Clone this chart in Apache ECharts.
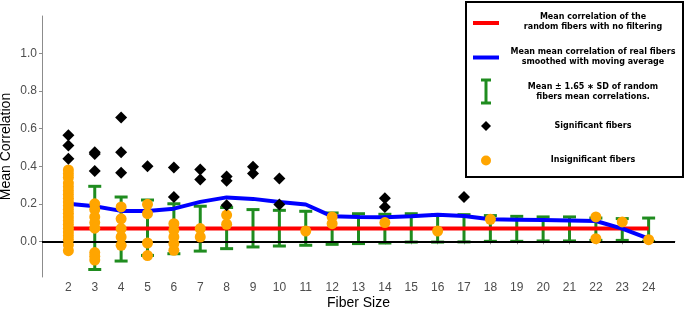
<!DOCTYPE html>
<html>
<head>
<meta charset="utf-8">
<script src="https://cdn.jsdelivr.net/npm/echarts@6/dist/echarts.min.js"></script>
<style>
  html, body { margin: 0; padding: 0; background: #fff; }
  #chart { width: 685px; height: 311px; }
</style>
</head>
<body>
<div id="chart"></div>
<script>
var sizes = [2, 3, 4, 5, 6, 7, 8, 9, 10, 11, 12, 13, 14, 15, 16, 17, 18, 19, 20, 21, 22, 23, 24];
var randomMean = [0.068, 0.068, 0.068, 0.068, 0.068, 0.068, 0.068, 0.068, 0.068, 0.068, 0.068, 0.068,
  0.068, 0.068, 0.068, 0.068, 0.068, 0.068, 0.068, 0.068, 0.068, 0.068, 0.068];
var realMovingAvg = [0.2, 0.187, 0.162, 0.162, 0.174, 0.21, 0.234, 0.226, 0.21, 0.196, 0.133, 0.13,
  0.128, 0.133, 0.142, 0.135, 0.117, 0.115, 0.113, 0.111, 0.108, 0.068, 0.014];

// error bars (size, low, high), none visible at size 2
var errSizes = [3, 4, 5, 6, 7, 8, 9, 10, 11, 12, 13, 14, 15, 16, 17, 18, 19, 20, 21, 22, 23, 24];
var errLow = [-0.15, -0.105, -0.075, -0.066, -0.052, -0.039, -0.03, -0.025, -0.021, -0.016, -0.012,
  -0.009, -0.004, -0.004, -0.003, 0.0, 0.0, 0.002, 0.002, 0.005, 0.005, 0.0];
var errHigh = [0.293, 0.236, 0.22, 0.2, 0.187, 0.18, 0.169, 0.165, 0.16, 0.151, 0.147,
  0.144, 0.147, 0.142, 0.142, 0.137, 0.133, 0.13, 0.13, 0.124, 0.121, 0.124];

var significant = [
  [2, 0.565], [2, 0.51], [2, 0.44],
  [3, 0.475], [3, 0.465], [3, 0.375],
  [4, 0.66], [4, 0.475], [4, 0.365],
  [5, 0.40],
  [6, 0.393], [6, 0.236],
  [7, 0.382], [7, 0.329],
  [8, 0.345], [8, 0.322], [8, 0.192],
  [9, 0.397], [9, 0.361],
  [10, 0.334], [10, 0.196],
  [14, 0.23], [14, 0.183],
  [17, 0.236]
];
var insignificant = [
  [2, 0.38], [2, 0.36], [2, 0.34], [2, 0.31], [2, 0.29], [2, 0.27], [2, 0.25], [2, 0.23], [2, 0.21],
  [2, 0.19], [2, 0.17], [2, 0.15], [2, 0.13], [2, 0.11], [2, 0.09], [2, 0.07], [2, 0.05], [2, 0.03],
  [2, 0.01], [2, -0.02], [2, -0.05],
  [3, 0.2], [3, 0.17], [3, 0.13], [3, 0.1], [3, 0.07], [3, -0.06], [3, -0.08], [3, -0.1],
  [4, 0.183], [4, 0.12], [4, 0.068], [4, 0.023], [4, -0.021],
  [5, 0.197], [5, 0.147], [5, -0.009], [5, -0.076],
  [6, 0.094], [6, 0.059], [6, 0.023], [6, -0.012], [6, -0.048],
  [7, 0.068], [7, 0.023],
  [8, 0.14], [8, 0.091],
  [11, 0.055],
  [12, 0.13], [12, 0.094],
  [14, 0.1],
  [16, 0.055],
  [18, 0.117],
  [22, 0.13], [22, 0.014],
  [23, 0.103],
  [24, 0.009]
];
var yTicks = [0, 0.2, 0.4, 0.6, 0.8, 1.0];

var green = "#1f8c1f";
var legendFont = "bold 8px 'DejaVu Sans'";

var chart = echarts.init(document.getElementById("chart"));

function legendText(y, str) {
  return {
    type: "text",
    z: 11,
    style: { text: str, x: 593, y: y, font: legendFont, fill: "#000", align: "center", verticalAlign: "middle" }
  };
}

chart.setOption({
  animation: false,
  backgroundColor: "#fff",
  grid: { left: 42, right: 10, top: 16, bottom: 34, outerBoundsMode: "none" },
  xAxis: {
    type: "value",
    min: 1,
    max: 25,
    name: "Fiber Size",
    nameLocation: "middle",
    nameGap: 19,
    nameMoveOverlap: false,
    nameTextStyle: { fontFamily: "Liberation Sans", fontSize: 14, color: "#000" },
    splitLine: { show: false },
    axisLine: { lineStyle: { color: "#8c8c8c", width: 1 } },
    axisTick: { length: 3, lineStyle: { color: "#8c8c8c" }, customValues: sizes },
    axisLabel: { customValues: sizes, margin: 5, fontFamily: "Liberation Sans", fontSize: 12, color: "#4d4d4d" }
  },
  yAxis: {
    type: "value",
    min: -0.19,
    max: 1.2,
    name: "Mean Correlation",
    nameLocation: "middle",
    nameGap: 29,
    nameMoveOverlap: false,
    nameTextStyle: { fontFamily: "Liberation Sans", fontSize: 14, color: "#000" },
    splitLine: { show: false },
    axisLine: { show: true, lineStyle: { color: "#8c8c8c", width: 1 } },
    axisTick: { show: true, length: 3, lineStyle: { color: "#8c8c8c" }, customValues: yTicks },
    axisLabel: {
      customValues: yTicks,
      margin: 5,
      fontFamily: "Liberation Sans",
      fontSize: 12,
      color: "#4d4d4d",
      formatter: function (v) { return v.toFixed(1); }
    }
  },
  series: [
    {
      type: "custom",
      data: errSizes.map(function (s, i) { return [s, errLow[i], errHigh[i]]; }),
      renderItem: function (params, api) {
        var x = api.value(0);
        var lo = api.coord([x, api.value(1)]);
        var hi = api.coord([x, api.value(2)]);
        var w = 6.5;
        var st = { stroke: green, lineWidth: 3 };
        return {
          type: "group",
          children: [
            { type: "line", shape: { x1: hi[0], y1: hi[1], x2: lo[0], y2: lo[1] }, style: st },
            { type: "line", shape: { x1: hi[0] - w, y1: hi[1], x2: hi[0] + w, y2: hi[1] }, style: st },
            { type: "line", shape: { x1: lo[0] - w, y1: lo[1], x2: lo[0] + w, y2: lo[1] }, style: st }
          ]
        };
      },
      markLine: {
        silent: true,
        symbol: "none",
        label: { show: false },
        lineStyle: { color: "#000", width: 2, type: "solid" },
        data: [{ yAxis: 0 }]
      },
      z: 2
    },
    {
      type: "line",
      data: sizes.map(function (s, i) { return [s, randomMean[i]]; }),
      showSymbol: false,
      lineStyle: { color: "#ff0000", width: 4 },
      z: 3
    },
    {
      type: "line",
      data: sizes.map(function (s, i) { return [s, realMovingAvg[i]]; }),
      showSymbol: false,
      lineStyle: { color: "#0000ff", width: 4 },
      z: 4
    },
    {
      type: "scatter",
      data: insignificant,
      symbol: "circle",
      symbolSize: 11,
      itemStyle: { color: "#ffa500", opacity: 1 },
      z: 5
    },
    {
      type: "scatter",
      data: significant,
      symbol: "diamond",
      symbolSize: [12, 12],
      itemStyle: { color: "#000", opacity: 1 },
      z: 6
    }
  ],
  graphic: [
    {
      type: "rect",
      z: 10,
      shape: { x: 466, y: 2, width: 217, height: 175 },
      style: { fill: "#fff", stroke: "#000", lineWidth: 2 }
    },
    { type: "rect", z: 11, shape: { x: 473, y: 21, width: 26, height: 4 }, style: { fill: "#ff0000" } },
    legendText(17, "Mean correlation of the"),
    legendText(27, "random fibers with no filtering"),
    { type: "rect", z: 11, shape: { x: 473, y: 55.5, width: 26, height: 4 }, style: { fill: "#0000ff" } },
    legendText(52, "Mean mean correlation of real fibers"),
    legendText(62, "smoothed with moving average"),
    { type: "line", z: 11, shape: { x1: 486, y1: 80, x2: 486, y2: 103 }, style: { stroke: green, lineWidth: 3 } },
    { type: "line", z: 11, shape: { x1: 481, y1: 80, x2: 491, y2: 80 }, style: { stroke: green, lineWidth: 3 } },
    { type: "line", z: 11, shape: { x1: 481, y1: 103, x2: 491, y2: 103 }, style: { stroke: green, lineWidth: 3 } },
    legendText(87, "Mean \u00b1 1.65 \u2217 SD of random"),
    legendText(97, "fibers mean correlations."),
    { type: "polygon", z: 11, shape: { points: [[486, 121], [491, 126], [486, 131], [481, 126]] }, style: { fill: "#000" } },
    legendText(125.5, "Significant fibers"),
    { type: "circle", z: 11, shape: { cx: 486, cy: 160.5, r: 5 }, style: { fill: "#ffa500" } },
    legendText(160, "Insignificant fibers")
  ]
});
</script>
</body>
</html>
